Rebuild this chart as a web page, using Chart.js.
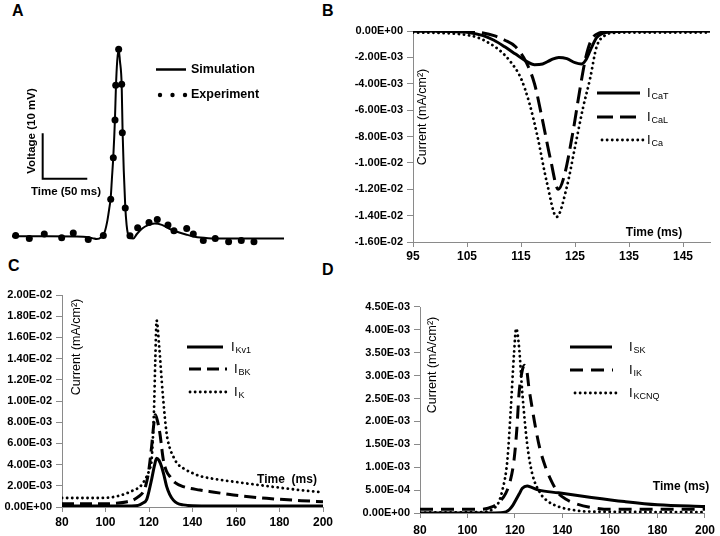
<!DOCTYPE html>
<html>
<head>
<meta charset="utf-8">
<script src="https://cdn.jsdelivr.net/npm/chart.js@4"></script>
<style>
  body { margin: 0; background: #fff; width: 720px; height: 536px; position: relative; overflow: hidden; font-family: "Liberation Sans", Arial, sans-serif; }
  .panel { position: absolute; }
  .letter { position: absolute; font-weight: bold; font-size: 16px; line-height: 16px; }
</style>
</head>
<body>
<div class="letter" style="left:12px;top:3px">A</div>
<div class="letter" style="left:322px;top:3px">B</div>
<div class="letter" style="left:8px;top:258px">C</div>
<div class="letter" style="left:322px;top:262px">D</div>

<div class="panel" style="left:0;top:30px"><canvas id="chartA" width="300" height="235"></canvas></div>
<div class="panel" style="left:330px;top:20px"><canvas id="chartB" width="395" height="255"></canvas></div>
<div class="panel" style="left:0;top:280px"><canvas id="chartC" width="340" height="256"></canvas></div>
<div class="panel" style="left:350px;top:290px"><canvas id="chartD" width="370" height="246"></canvas></div>

<script>
// A: membrane voltage (mV) vs time (ms)
const simTime = [0, 40, 80, 90, 95, 100, 104, 107, 109, 110.7, 112, 113.6, 115.5, 116.5, 118, 119.6, 121, 123, 124, 125.3, 127, 128.5, 130, 132, 136, 140, 146, 152, 160, 168, 176, 185, 195, 205, 220, 240, 305];
const simVolt = [-60, -60, -60.1, -60.4, -60.6, -60.2, -59, -56.5, -54, -51.5, -47.5, -42.5, -34, -27.5, -21.5, -19, -21.5, -27, -37, -45.5, -53.5, -57.5, -59.5, -60.3, -60.5, -59.5, -58.3, -57.6, -57.2, -57.5, -58.3, -59.0, -59.6, -60.1, -60.4, -60.5, -60.5];
const expTime = [4.1, 19.4, 36.2, 55.7, 68.7, 85.5, 102.4, 110.7, 113.6, 115.5, 116.3, 119.6, 123.0, 123.7, 127.0, 132.3, 140.9, 153.6, 162.9, 174.9, 181.6, 195.9, 203.3, 214.5, 227.9, 242.9, 257.1, 271.3];
const expVolt = [-59.8, -60.5, -59.5, -60.3, -59.3, -60.7, -59.8, -51.9, -42.8, -34.5, -26.9, -19.0, -26.7, -37.3, -53.8, -59.9, -58.1, -57.0, -56.3, -57.5, -58.8, -58.3, -59.5, -60.9, -60.5, -61.2, -60.9, -61.2];

// B: calcium currents, values in E-03 mA/cm2
const caTTime = [95, 100, 105, 108, 110, 112, 114, 116, 117.5, 119, 120.5, 122, 123.5, 125, 126.2, 127, 128, 129, 130, 132, 135, 150];
const caTVal  = [0, -0.01, -0.1, -0.35, -0.7, -1.2, -1.75, -2.3, -2.55, -2.5, -2.2, -2.0, -2.1, -2.4, -2.5, -2.2, -1.3, -0.5, -0.2, -0.05, 0, 0];
const caLTime = [95, 105, 108, 110, 112, 114, 116, 117.5, 119, 120.5, 121.9, 123, 124.6, 126, 127, 128, 129.5, 132, 135, 150];
const caLVal  = [0, -0.02, -0.15, -0.35, -0.7, -1.2, -2.4, -4.0, -6.8, -9.8, -12.0, -11.0, -7.7, -4.2, -2.0, -0.7, -0.15, -0.02, 0, 0];
const caTime  = [95, 100, 104, 107, 109, 111, 113, 115, 116.5, 118, 119.8, 121.6, 123.5, 125, 126.5, 127.8, 129, 130.5, 132, 135, 150];
const caVal   = [-0.12, -0.15, -0.25, -0.5, -0.9, -1.45, -2.3, -3.6, -5.4, -7.9, -11.5, -14.1, -11.8, -8.8, -5.8, -3.6, -1.2, -0.35, -0.15, -0.12, -0.12];
const bXTicks = [95, 105, 115, 125, 135, 145];
const bYTicks = [0, -2, -4, -6, -8, -10, -12, -14, -16];

// C: potassium currents, E-03 mA/cm2
const kv1Time = [80, 100, 112, 115, 117, 118.9, 120, 121.2, 122.5, 123.5, 124.6, 125.8, 127, 128.1, 129.5, 131.2, 133, 135.8, 140, 150, 200];
const kv1Val  = [0.1, 0.1, 0.1, 0.15, 0.35, 0.7, 1.5, 2.6, 3.9, 4.6, 4.4, 3.8, 2.9, 1.95, 1.2, 0.65, 0.35, 0.2, 0.12, 0.1, 0.1];
const bkTime  = [80, 100, 105, 110, 112.8, 115, 117.4, 118.6, 119.7, 121.2, 122.2, 122.9, 123.8, 125, 126.6, 128, 129.7, 132, 135.8, 143.4, 150, 158.8, 174.1, 190, 200];
const bkVal   = [0.3, 0.3, 0.35, 0.5, 0.66, 0.95, 1.44, 2.1, 3.18, 5.7, 7.8, 8.7, 8.2, 6.95, 4.43, 3.4, 2.86, 2.3, 1.92, 1.6, 1.4, 1.13, 0.82, 0.6, 0.5];
const kTime   = [80, 95, 102, 106, 109.7, 113, 115.9, 118.9, 120.3, 121.2, 122.3, 122.9, 123.5, 124.7, 126.3, 128.1, 129.5, 131.2, 133, 135.8, 140, 143.4, 150, 158.8, 174.1, 189.4, 200];
const kVal    = [0.85, 0.85, 0.9, 1.05, 1.29, 1.6, 1.92, 2.86, 3.6, 4.43, 9.15, 13.9, 17.6, 15.1, 10.7, 6.95, 5.6, 4.75, 4.1, 3.65, 3.2, 2.92, 2.65, 2.39, 1.98, 1.6, 1.39];
const cdXTicks = [80, 100, 120, 140, 160, 180, 200];
const cYTicks = [0, 2, 4, 6, 8, 10, 12, 14, 16, 18, 20];

// D: E-03 mA/cm2
const skTime   = [80, 110, 115, 117.5, 119, 120.3, 121.8, 123.1, 125.1, 127, 130, 138.3, 152.2, 166.1, 180, 200];
const skVal    = [0, 0, 0.01, 0.07, 0.16, 0.28, 0.42, 0.54, 0.59, 0.56, 0.5, 0.44, 0.34, 0.25, 0.18, 0.14];
const ikTime   = [80, 105, 110.6, 113.5, 116.1, 118, 119.6, 120.8, 121.7, 123, 124, 125, 125.8, 127.2, 128.6, 130.5, 132.8, 135.5, 138.3, 141.5, 145.3, 152.2, 160, 200];
const ikVal    = [0.08, 0.08, 0.14, 0.25, 0.43, 0.7, 1.16, 1.85, 2.61, 3.1, 3.23, 3.1, 2.76, 2.3, 1.88, 1.4, 1.01, 0.68, 0.43, 0.3, 0.21, 0.12, 0.08, 0.08];
const kcnqTime = [80, 105, 112, 114.7, 116.8, 118.2, 119.6, 120.5, 121.7, 123.1, 125.1, 127.2, 130.7, 134, 138.3, 145, 152.2, 200];
const kcnqVal  = [0.01, 0.02, 0.14, 0.5, 1.16, 2.25, 3.49, 4.03, 3.63, 2.61, 1.52, 0.87, 0.43, 0.25, 0.14, 0.06, 0.03, 0.02];
const dYTicks = [0, 0.5, 1, 1.5, 2, 2.5, 3, 3.5, 4, 4.5];

Chart.defaults.font.family = '"Liberation Sans", Arial, sans-serif';
Chart.defaults.color = '#000';
Chart.defaults.animation = false;

const AXIS = '#8a8a8a';
const E3 = 1e-3;

const pts = (xs, ys, k = 1) => xs.map((x, i) => ({ x: x, y: ys[i] * k }));

function sci(v) {
  if (Math.abs(v) < 1e-12) return '0.00E+00';
  const parts = v.toExponential(2).split('e');
  const n = parseInt(parts[1], 10);
  return parts[0] + 'E' + (n < 0 ? '-' : '+') + String(Math.abs(n)).padStart(2, '0');
}

function line(data, style) {
  const ds = { data: data, borderColor: '#000', borderWidth: 3, pointRadius: 0, fill: false, cubicInterpolationMode: 'monotone', borderCapStyle: 'butt' };
  if (style === 'dash') ds.borderDash = [16, 7];
  if (style === 'dash2') ds.borderDash = [12, 6];
  if (style === 'dash3') ds.borderDash = [13, 8];
  if (style === 'dot') { ds.borderDash = [0.1, 5]; ds.borderCapStyle = 'round'; ds.borderWidth = 2.8; }
  return ds;
}

function axes(o) {
  return {
    x: {
      type: 'linear', min: o.xMin, max: o.xMax,
      afterBuildTicks: s => { s.ticks = o.xTicks.map(v => ({ value: v })); },
      afterFit: s => { s.height = o.xH; },
      border: { color: AXIS },
      grid: { drawOnChartArea: false, color: AXIS, tickLength: 5 },
      ticks: { padding: o.xPad, font: { size: 12, weight: 'bold' }, maxRotation: 0, autoSkip: false }
    },
    y: {
      type: 'linear', min: o.yMin, max: o.yMax,
      afterBuildTicks: s => { s.ticks = o.yTicks.map(v => ({ value: v * E3 })); },
      afterFit: s => { s.width = o.yW; },
      border: { color: AXIS },
      grid: { drawOnChartArea: false, color: AXIS, tickLength: 6 },
      ticks: { padding: 4, font: { size: 11, weight: 'bold' }, autoSkip: false, callback: v => sci(v) }
    }
  };
}

// helpers for the text and legend samples
function text(ctx, str, x, y, font, align, rot) {
  ctx.save();
  ctx.translate(x, y);
  if (rot) ctx.rotate(rot);
  ctx.font = font;
  ctx.fillStyle = '#000';
  ctx.textAlign = align || 'center';
  ctx.textBaseline = 'middle';
  ctx.fillText(str, 0, 0);
  ctx.restore();
}

function legendItem(ctx, ds, x1, x2, y, tx, sub) {
  ctx.save();
  ctx.strokeStyle = '#000';
  ctx.lineWidth = ds.borderWidth;
  ctx.lineCap = ds.borderCapStyle;
  ctx.setLineDash(ds.borderDash || []);
  ctx.beginPath();
  ctx.moveTo(x1, y);
  ctx.lineTo(x2, y);
  ctx.stroke();
  ctx.restore();
  text(ctx, 'I', tx, y, '13px "Liberation Sans", Arial', 'left');
  text(ctx, sub, tx + 4.5, y + 4, '9px "Liberation Sans", Arial', 'left');
}

const yTitle = '12.5px "Liberation Sans", Arial';
const xTitle = 'bold 12px "Liberation Sans", Arial';

function baseOptions(scales, pad) {
  return {
    responsive: false,
    layout: { padding: pad },
    plugins: { legend: { display: false }, tooltip: { enabled: false } },
    scales: scales
  };
}

// ---- A ----
const barTime = 34.4, barVolt = -47.4;
new Chart(document.getElementById('chartA'), {
  type: 'line',
  data: {
    datasets: [
      { data: pts(simTime, simVolt), borderColor: '#000', borderWidth: 2, pointRadius: 0, cubicInterpolationMode: 'monotone' },
      { data: pts(expTime, expVolt), showLine: false, pointRadius: 3.5, pointBackgroundColor: '#000', pointBorderWidth: 0 }
    ]
  },
  options: baseOptions({
    x: { type: 'linear', display: false, min: 0, max: 305 },
    y: { type: 'linear', display: false, min: -63, max: -17 }
  }, { left: 12, right: 16, top: 10, bottom: 15 }),
  plugins: [{
    id: 'decorA',
    afterDraw(chart) {
      const ctx = chart.ctx, sx = chart.scales.x, sy = chart.scales.y;
      const x0 = sx.getPixelForValue(barTime), x1 = sx.getPixelForValue(barTime + 50);
      const y0 = sy.getPixelForValue(barVolt), y1 = sy.getPixelForValue(barVolt + 10);
      ctx.save();
      ctx.strokeStyle = '#000';
      ctx.lineWidth = 2;
      ctx.beginPath();
      ctx.moveTo(x0, y1); ctx.lineTo(x0, y0); ctx.lineTo(x1, y0);
      ctx.stroke();
      ctx.restore();
      text(ctx, 'Voltage (10 mV)', 32, 101, 'bold 11.5px "Liberation Sans", Arial', 'center', -Math.PI / 2);
      text(ctx, 'Time (50 ms)', 66, 162, 'bold 11.5px "Liberation Sans", Arial', 'center');
      // legend
      ctx.save();
      ctx.strokeStyle = '#000'; ctx.lineWidth = 2.5;
      ctx.beginPath(); ctx.moveTo(156, 39.5); ctx.lineTo(186, 39.5); ctx.stroke();
      ctx.fillStyle = '#000';
      [160, 172.5, 185].forEach(cx => { ctx.beginPath(); ctx.arc(cx, 65, 2.2, 0, Math.PI * 2); ctx.fill(); });
      ctx.restore();
      text(ctx, 'Simulation', 191, 39.5, 'bold 12.5px "Liberation Sans", Arial', 'left');
      text(ctx, 'Experiment', 191, 65, 'bold 12.5px "Liberation Sans", Arial', 'left');
    }
  }]
});

// ---- B ----
const dsB = [line(pts(caTTime, caTVal, E3), 'solid'), line(pts(caLTime, caLVal, E3), 'dash'), line(pts(caTime, caVal, E3), 'dot')];
new Chart(document.getElementById('chartB'), {
  type: 'line',
  data: { datasets: dsB },
  options: baseOptions(axes({ xMin: 95, xMax: 150, xTicks: bXTicks, xH: 33, xPad: 2, yMin: -0.016, yMax: 0, yTicks: bYTicks, yW: 83 }),
    { left: 0, right: 15, top: 11, bottom: 0 }),
  plugins: [{
    id: 'decorB',
    afterDraw(chart) {
      const ctx = chart.ctx;
      legendItem(ctx, dsB[0], 267, 310, 73, 317, 'CaT');
      legendItem(ctx, dsB[1], 267, 310, 97, 317, 'CaL');
      legendItem(ctx, dsB[2], 272, 313, 120, 317, 'Ca');
      text(ctx, 'Current (mA/cm²)', 93, 97, yTitle, 'center', -Math.PI / 2);
      text(ctx, 'Time (ms)', 324, 213, xTitle, 'center');
    }
  }]
});

// ---- C ----
const dsC = [line(pts(kv1Time, kv1Val, E3), 'solid'), line(pts(bkTime, bkVal, E3), 'dash2'), line(pts(kTime, kVal, E3), 'dot')];
new Chart(document.getElementById('chartC'), {
  type: 'line',
  data: { datasets: dsC },
  options: baseOptions(axes({ xMin: 80, xMax: 200, xTicks: cdXTicks, xH: 29, xPad: 3, yMin: 0, yMax: 0.02, yTicks: cYTicks, yW: 62 }),
    { left: 0, right: 17, top: 15, bottom: 0 }),
  plugins: [{
    id: 'decorC',
    afterDraw(chart) {
      const ctx = chart.ctx;
      legendItem(ctx, dsC[0], 187, 223, 67, 231, 'Kv1');
      legendItem(ctx, dsC[1], 189, 227, 89, 234, 'BK');
      legendItem(ctx, dsC[2], 190, 227, 112, 234, 'K');
      text(ctx, 'Current (mA/cm²)', 77, 67, yTitle, 'center', -Math.PI / 2);
      text(ctx, 'Time  (ms)', 287, 200, xTitle, 'center');
    }
  }]
});

// ---- D ----
const dsD = [line(pts(skTime, skVal, E3), 'solid'), line(pts(ikTime, ikVal, E3), 'dash3'), line(pts(kcnqTime, kcnqVal, E3), 'dot')];
new Chart(document.getElementById('chartD'), {
  type: 'line',
  data: { datasets: dsD },
  options: baseOptions(axes({ xMin: 80, xMax: 200, xTicks: cdXTicks, xH: 23, xPad: 5, yMin: 0, yMax: 0.0045, yTicks: dYTicks, yW: 70 }),
    { left: 0, right: 12, top: 17, bottom: 0 }),
  plugins: [{
    id: 'decorD',
    afterDraw(chart) {
      const ctx = chart.ctx;
      legendItem(ctx, dsD[0], 220, 262, 57, 279, 'SK');
      legendItem(ctx, dsD[1], 220, 263, 80, 279, 'IK');
      legendItem(ctx, dsD[2], 225, 268, 103, 279, 'KCNQ');
      text(ctx, 'Current (mA/cm²)', 83, 75, yTitle, 'center', -Math.PI / 2);
      text(ctx, 'Time (ms)', 331, 197, xTitle, 'center');
    }
  }]
});
</script>
</body>
</html>
